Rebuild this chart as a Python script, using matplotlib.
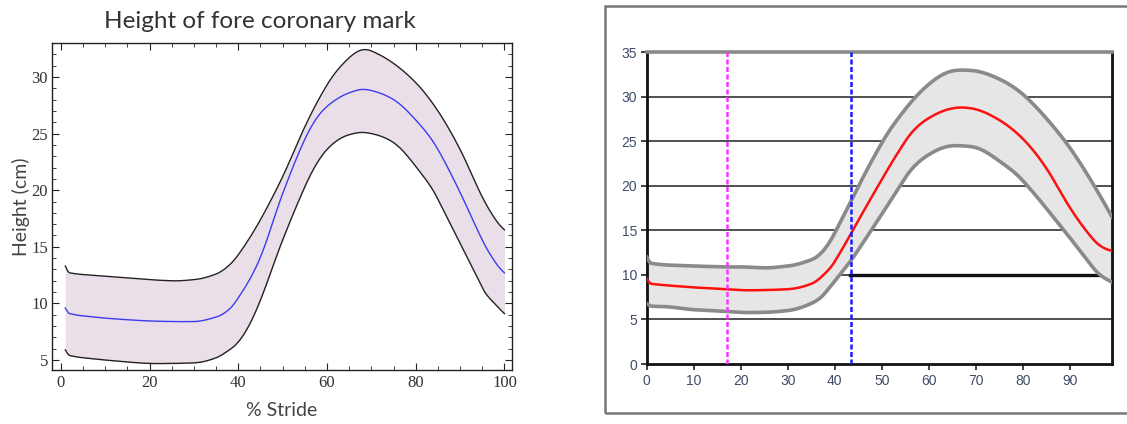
import matplotlib
matplotlib.use("Agg")
import matplotlib.pyplot as plt
import numpy as np
from matplotlib.patches import Rectangle
from matplotlib.ticker import MultipleLocator

# ---- Left panel data ----
left_x = [1, 2, 5, 10, 20, 25, 30, 35, 38, 40, 45, 50, 55, 60, 65, 68, 70, 75, 80, 85, 90, 95, 98, 100]
left_upper = [13.3, 12.7, 12.55, 12.4, 12.1, 12.0, 12.1, 12.6, 13.4, 14.3, 17.4, 21.2, 25.6, 29.3, 31.7, 32.4, 32.3, 31.2, 29.5, 27.0, 23.6, 19.4, 17.4, 16.5]
left_mean = [9.6, 9.1, 8.9, 8.7, 8.45, 8.4, 8.4, 8.8, 9.5, 10.5, 14.1, 19.7, 24.5, 27.4, 28.6, 28.9, 28.8, 28.0, 26.2, 23.6, 19.8, 15.6, 13.6, 12.7]
left_lower = [5.9, 5.4, 5.2, 5.0, 4.7, 4.7, 4.75, 5.2, 5.9, 6.6, 10.3, 15.6, 20.3, 23.6, 24.9, 25.1, 25.0, 24.2, 22.1, 19.2, 15.3, 11.4, 9.9, 9.1]

# ---- Right panel data ----
right_x = [0, 1, 5, 10, 17, 20, 25, 30, 35, 38, 40, 43, 45, 50, 55, 60, 65, 67, 70, 75, 80, 85, 90, 95, 99]
right_upper = [12.0, 11.3, 11.1, 11.0, 10.9, 10.9, 10.8, 11.0, 11.7, 13.0, 14.7, 17.8, 19.9, 24.8, 28.6, 31.4, 32.9, 33.0, 32.9, 32.0, 30.3, 27.6, 24.3, 20.2, 16.5]
right_mean = [9.6, 9.0, 8.8, 8.6, 8.4, 8.3, 8.3, 8.4, 9.0, 10.2, 11.5, 14.2, 16.1, 20.7, 25.0, 27.6, 28.7, 28.8, 28.6, 27.4, 25.3, 22.0, 17.6, 14.0, 12.7]
right_lower = [6.8, 6.5, 6.4, 6.1, 5.9, 5.8, 5.8, 6.0, 6.8, 8.0, 9.3, 11.3, 12.8, 16.8, 20.9, 23.5, 24.5, 24.5, 24.3, 22.8, 20.6, 17.5, 14.2, 10.8, 9.2]
magenta_x = 17.0
blue_x = 43.4
right_yticks = [0, 5, 10, 15, 20, 25, 30, 35]
right_xticks = [0, 10, 20, 30, 40, 50, 60, 70, 80, 90]


def smooth(xs, ys, n=600):
    """Akima interpolation through the read points."""
    xs = np.asarray(xs, float)
    ys = np.asarray(ys, float)
    N = len(xs)
    h = np.diff(xs)
    m = np.diff(ys) / h
    mm = np.empty(N + 3)
    mm[2:N + 1] = m
    mm[1] = 2 * mm[2] - mm[3]
    mm[0] = 2 * mm[1] - mm[2]
    mm[N + 1] = 2 * mm[N] - mm[N - 1]
    mm[N + 2] = 2 * mm[N + 1] - mm[N]
    t = np.empty(N)
    for i in range(N):
        w1 = abs(mm[i + 3] - mm[i + 2])
        w2 = abs(mm[i + 1] - mm[i])
        if w1 + w2 < 1e-12:
            t[i] = 0.5 * (mm[i + 1] + mm[i + 2])
        else:
            t[i] = (w1 * mm[i + 1] + w2 * mm[i + 2]) / (w1 + w2)
    xx = np.linspace(xs[0], xs[-1], n)
    idx = np.clip(np.searchsorted(xs, xx) - 1, 0, N - 2)
    hh = h[idx]
    s = (xx - xs[idx]) / hh
    h00 = 2 * s**3 - 3 * s**2 + 1
    h10 = s**3 - 2 * s**2 + s
    h01 = -2 * s**3 + 3 * s**2
    h11 = s**3 - s**2
    yy = h00 * ys[idx] + h10 * hh * t[idx] + h01 * ys[idx + 1] + h11 * hh * t[idx + 1]
    return xx, yy


fig = plt.figure(figsize=(11.27, 4.24), dpi=100)

# ================= LEFT =================
axL = fig.add_axes([52 / 1127, 1 - 370 / 424, 460 / 1127, 327 / 424])
xu, yu = smooth(left_x, left_upper)
xm, ym = smooth(left_x, left_mean)
xl, yl = smooth(left_x, left_lower)
axL.fill_between(xu, yl, yu, color='#eadfe8', lw=0)
axL.plot(xu, yu, color='#222222', lw=1.0)
axL.plot(xl, yl, color='#222222', lw=1.0)
axL.plot(xm, ym, color='#3b3bf0', lw=1.0)
axL.set_xlim(-2, 101.7)
axL.set_ylim(4.12, 33.0)
axL.xaxis.set_major_locator(MultipleLocator(20))
axL.xaxis.set_minor_locator(MultipleLocator(5))
axL.yaxis.set_major_locator(MultipleLocator(5))
axL.yaxis.set_minor_locator(MultipleLocator(1))
axL.tick_params(which='both', direction='in', top=True, right=True, color='#222222')
axL.tick_params(which='major', length=5, width=0.8)
axL.tick_params(which='minor', length=3, width=0.6)
axL.tick_params(axis='y', which='major', pad=3)
for lab in axL.get_xticklabels() + axL.get_yticklabels():
    lab.set_family('Liberation Serif')
    lab.set_fontsize(12)
    lab.set_color('#333333')
for sp in axL.spines.values():
    sp.set_color('#222222')
    sp.set_linewidth(1.0)
axL.set_xlabel('% Stride', fontsize=14, family='Lato', color='#444444', labelpad=8)
axL.set_ylabel('Height (cm)', fontsize=14, family='Lato', color='#444444', labelpad=1)
fig.text(260 / 1127, 1 - 21 / 424, 'Height of fore coronary mark', ha='center', va='center',
         fontsize=17.5, family='Lato', color='#333333')

# ================= RIGHT =================
fig.patches.append(Rectangle((605 / 1127, 1 - 413 / 424), 0.6, (413 - 6) / 424,
                             transform=fig.transFigure, fill=False, ec='#777777', lw=1.8))
axR = fig.add_axes([646.7 / 1127, 1 - 364 / 424, (1112 - 646.7) / 1127, (364 - 52.3) / 424])
xu, yu = smooth(right_x, right_upper)
xm, ym = smooth(right_x, right_mean)
xl, yl = smooth(right_x, right_lower)
for yv in [5, 10, 15, 20, 25, 30]:
    axR.axhline(yv, color='#222222', lw=1.1, zorder=1)
axR.plot([43.2, 96.5], [10, 10], color='#111111', lw=2.4, zorder=1.5)
axR.fill_between(xu, yl, yu, color='#e6e6e6', lw=0, zorder=2)
axR.plot(xu, yu, color='#8a8a8a', lw=2.6, zorder=3)
axR.plot(xl, yl, color='#8a8a8a', lw=2.6, zorder=3)
axR.plot(xm, ym, color='#ff1010', lw=1.8, zorder=4)
axR.axvline(magenta_x, color='#ff33ff', lw=1.8, ls=(0, (2, 1)), zorder=5)
axR.axvline(blue_x, color='#1a1aff', lw=1.8, ls=(0, (2, 1)), zorder=5)
axR.set_xlim(0, 99)
axR.set_ylim(0, 35)
axR.set_xticks(right_xticks)
axR.set_yticks(right_yticks)
axR.tick_params(direction='out', length=4, width=1.2, color='#222222', labelsize=10,
                labelcolor='#3f4c66', pad=3)
for lab in axR.get_xticklabels() + axR.get_yticklabels():
    lab.set_family('Liberation Sans')
axR.spines['top'].set_color('#8a8a8a')
axR.spines['top'].set_linewidth(2.6)
for s in ['left', 'bottom', 'right']:
    axR.spines[s].set_color('#111111')
    axR.spines[s].set_linewidth(2.0)

fig.savefig('out.png', dpi=100)
